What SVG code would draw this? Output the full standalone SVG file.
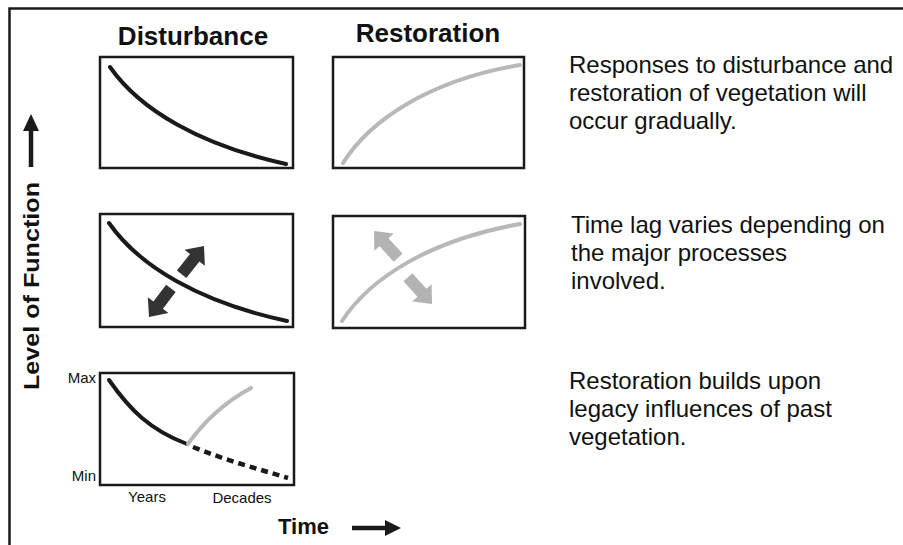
<svg xmlns="http://www.w3.org/2000/svg" xmlns:xlink="http://www.w3.org/1999/xlink" width="903" height="545" viewBox="0 0 903 545">
<style>
.box{fill:#fff;stroke:#1a1a1a;stroke-width:2.5}
.dark{fill:none;stroke:#1a1a1a;stroke-width:4;stroke-linecap:round}
.light{fill:none;stroke:#b8b8b8;stroke-width:4;stroke-linecap:round}
.hdr{font-family:"Liberation Sans",Arial,sans-serif;font-weight:bold;font-size:26px;fill:#111;text-anchor:middle}
.desc{font-family:"Liberation Sans",Arial,sans-serif;font-size:24px;fill:#111}
.lab{font-family:"Liberation Sans",Arial,sans-serif;font-size:15px;fill:#111}
.axis{font-family:"Liberation Sans",Arial,sans-serif;font-weight:bold;font-size:22px;fill:#111}
</style>
<defs>
<path id="ba" d="M-36,-6 L-15,-6 L-15,-13 L0,0 L-15,13 L-15,6 L-36,6 Z"/>
</defs>
<g id="frame" fill="none" stroke="#1a1a1a" stroke-width="2.5">
<path d="M9.5,545 L9.5,8.5 L903,8.5"/>
</g>
<text class="hdr" x="193" y="45">Disturbance</text>
<text class="hdr" x="428" y="42">Restoration</text>
<g id="panel-dist-1">
<rect class="box" x="100" y="57" width="193" height="111"/>
<path class="dark" d="M110,67 C140,110 200,145 286,164"/>
</g>
<g id="panel-rest-1">
<rect class="box" x="333" y="57" width="191" height="111"/>
<path class="light" d="M343,163 C370,120 430,80 520,65"/>
</g>
<g id="panel-dist-2">
<rect class="box" x="100" y="214" width="193" height="113"/>
<path class="dark" d="M109,223 C139,266 199,302 287,321"/>
<use xlink:href="#ba" fill="#333" transform="translate(204,246) rotate(-51.6)"/>
<use xlink:href="#ba" fill="#333" transform="translate(149,317) rotate(127.5)"/>
</g>
<g id="panel-rest-2">
<rect class="box" x="333" y="216" width="192" height="112"/>
<path class="light" d="M342,321 C370,278 430,240 520,224"/>
<use xlink:href="#ba" fill="#b3b3b3" transform="translate(374,231) rotate(-132)"/>
<use xlink:href="#ba" fill="#b3b3b3" transform="translate(432,304) rotate(48)"/>
</g>
<g id="panel-legacy">
<rect class="box" x="100" y="373" width="194" height="112"/>
<path class="dark" d="M109,380 C130,410 150,430 187,444"/>
<path class="light" d="M188,444 C205,420 225,402 251,388"/>
<path fill="none" stroke="#1a1a1a" stroke-width="4.5" stroke-dasharray="7,5" d="M193,447 C225,460 255,468 288,478"/>
<text class="lab" x="96" y="383" text-anchor="end">Max</text>
<text class="lab" x="96" y="481" text-anchor="end">Min</text>
<text class="lab" x="147" y="502" text-anchor="middle">Years</text>
<text class="lab" x="242" y="503" text-anchor="middle" font-size="15.5">Decades</text>
</g>
<g id="axis-y">
<text class="axis" transform="translate(39,286) rotate(-90)" text-anchor="middle" font-size="25" textLength="208" lengthAdjust="spacingAndGlyphs">Level of Function</text>
<path d="M31,167 L31,128" stroke="#1a1a1a" stroke-width="4.5"/>
<path d="M23,131 L31,114 L39,131 Z" fill="#1a1a1a"/>
</g>
<g id="axis-x">
<text class="axis" x="278" y="534" font-size="25">Time</text>
<path d="M352,528 L388,528" stroke="#1a1a1a" stroke-width="4.5"/>
<path d="M385,520 L401,528 L385,536 Z" fill="#1a1a1a"/>
</g>
<g id="note-1">
<text class="desc" x="569" y="73">Responses to disturbance and</text>
<text class="desc" x="569" y="101">restoration of vegetation will</text>
<text class="desc" x="569" y="129">occur gradually.</text>
</g>
<g id="note-2">
<text class="desc" x="571" y="233">Time lag varies depending on</text>
<text class="desc" x="571" y="261">the major processes</text>
<text class="desc" x="571" y="289">involved.</text>
</g>
<g id="note-3">
<text class="desc" x="569" y="389">Restoration builds upon</text>
<text class="desc" x="569" y="417">legacy influences of past</text>
<text class="desc" x="569" y="445">vegetation.</text>
</g>
</svg>
